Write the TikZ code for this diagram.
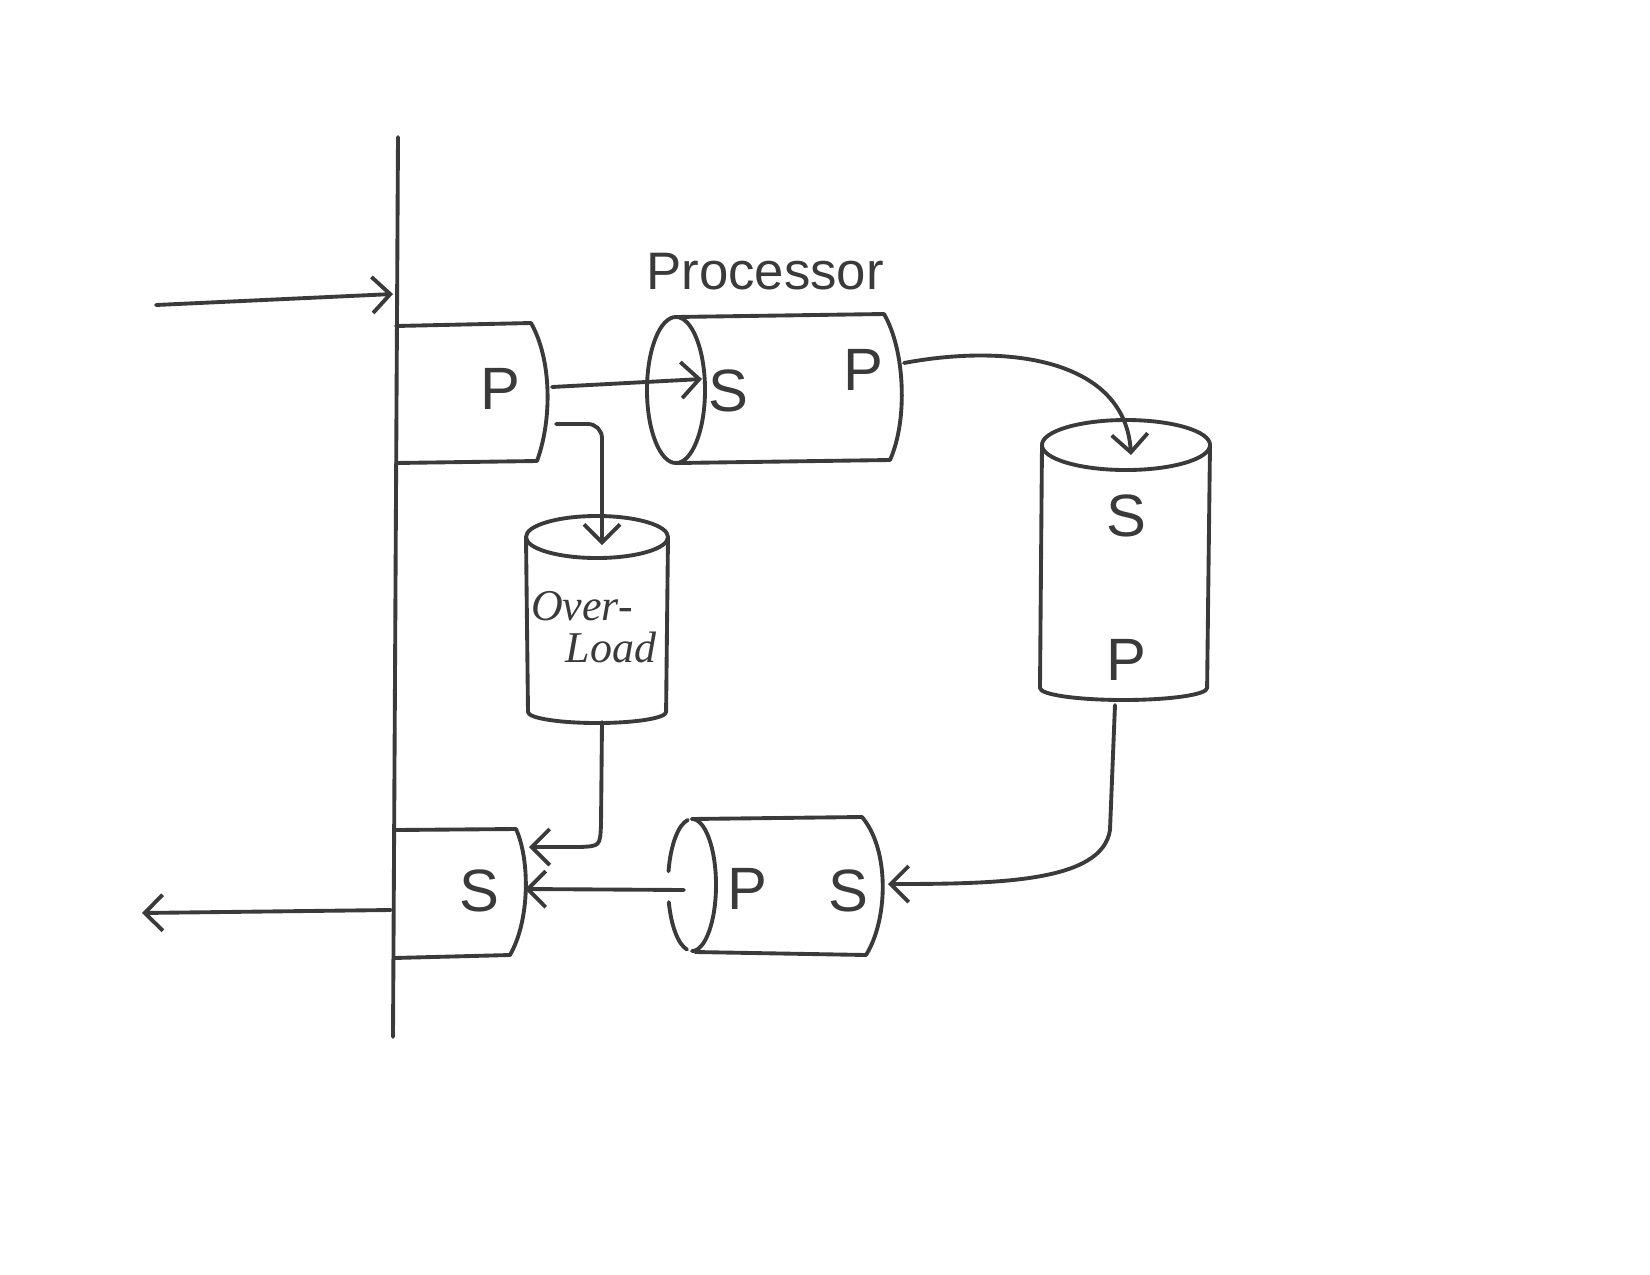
\documentclass[tikz,border=0pt]{standalone}
\usepackage{fontspec}
\setmainfont{Liberation Sans}
\newfontfamily\handit{Liberation Serif}
\usetikzlibrary{arrows.meta}
\definecolor{pencil}{HTML}{3A3A3A}
\tikzset{
  stroke/.style={draw=pencil, line width=1.1pt, line cap=round, line join=round},
  conn/.style={stroke, -{Straight Barb[length=1.8mm,width=3.6mm,line width=1.1pt]}},
  lbl/.style={text=pencil, font=\fontsize{17}{20}\selectfont, inner sep=0pt},
  title/.style={text=pencil, font=\fontsize{15}{18}\selectfont, inner sep=0pt},
  ovl/.style={text=pencil, font=\handit\itshape\fontsize{12.5}{15}\selectfont, inner sep=0pt}
}
\begin{document}
\begin{tikzpicture}[x=0.01cm, y=-0.01cm]
\useasboundingbox (0,0) rectangle (1650,1275);

% wall
\coordinate (wallTop) at (398,137);
\coordinate (wallBot) at (393,1037);
\draw[stroke] (wallTop) -- (wallBot);

% incoming / outgoing
\coordinate (inStart) at (156,305);
\coordinate (inEnd) at (393,294);
\draw[conn] (inStart) -- (inEnd);
\coordinate (outStart) at (391,910);
\coordinate (outEnd) at (142,913);
\draw[conn] (outStart) -- (outEnd);

% left top half-cylinder
\draw[stroke] (396,326) -- (531,323) .. controls (552,360) and (552,420) .. (537,461) -- (396,463);
\node[lbl] (ltP) at (500,389) {P};

% Processor cylinder
\draw[stroke] (676,390) ellipse [x radius=0.29cm, y radius=0.73cm];
\draw[stroke] (676,317) -- (884,314) .. controls (905,350) and (908,420) .. (890,460) -- (678,463);
\node[lbl] (prS) at (728,391) {S};
\node[lbl] (prP) at (863,370) {P};
\node[title] (proc) at (765,272) {Processor};

% Overload cylinder
\draw[stroke] (597,537) ellipse [x radius=0.71cm, y radius=0.21cm];
\draw[stroke] (526,537) -- (528,712) arc[start angle=180, end angle=360, x radius=0.69cm, y radius=0.11cm] -- (668,537);
\node[ovl] (ovA) at (582,606) {Over-};
\node[ovl] (ovB) at (611,647) {Load};

% right vertical cylinder
\draw[stroke] (1126,445) ellipse [x radius=0.84cm, y radius=0.25cm];
\draw[stroke] (1042,445) -- (1040,688) arc[start angle=180, end angle=360, x radius=0.835cm, y radius=0.12cm] -- (1210,445);
\node[lbl] (rcS) at (1126,516) {S};
\node[lbl] (rcP) at (1126,660) {P};

% bottom processor cylinder
\draw[stroke] (692,885) ++(-90:0.24cm and 0.66cm) arc[start angle=-90, end angle=90, x radius=0.24cm, y radius=0.66cm];
\draw[stroke] (692,885) ++(100:0.24cm and 0.66cm) arc[start angle=100, end angle=168, x radius=0.24cm, y radius=0.66cm];
\draw[stroke] (692,885) ++(195:0.24cm and 0.66cm) arc[start angle=195, end angle=258, x radius=0.24cm, y radius=0.66cm];
\draw[stroke] (692,819) -- (862,817) .. controls (890,850) and (888,920) .. (866,955) -- (695,952);
\node[lbl] (bpP) at (747,889) {P};
\node[lbl] (bpS) at (848,891) {S};

% left bottom half-cylinder
\draw[stroke] (396,830) -- (516,829) .. controls (530,860) and (530,920) .. (510,955) -- (394,958);
\node[lbl] (lbS) at (479,891) {S};

% connectors
\coordinate (a1) at (552,387);
\coordinate (a2) at (702,379);
\draw[conn] (a1) -- (a2);

\coordinate (b1) at (556,424);
\coordinate (b2) at (602,545);
\draw[conn, rounded corners=4pt] (b1) -- (602,424) -- (b2);

\coordinate (c1) at (602,722);
\coordinate (c2) at (529,847);
\draw[conn] (c1) -- (601,825) .. controls (600,846) .. (580,847) -- (c2);

\coordinate (d1) at (904,363);
\coordinate (d2) at (1131,455);
\draw[conn] (d1) .. controls (1010,343) and (1125,360) .. (d2);

\coordinate (e1) at (1115,705);
\coordinate (e2) at (888,884);
\draw[conn] (e1) -- (1110,830) .. controls (1102,882) and (1000,884) .. (e2);

\coordinate (f1) at (684,890);
\coordinate (f2) at (525,889);
\draw[conn] (f1) -- (f2);
\end{tikzpicture}
\end{document}
